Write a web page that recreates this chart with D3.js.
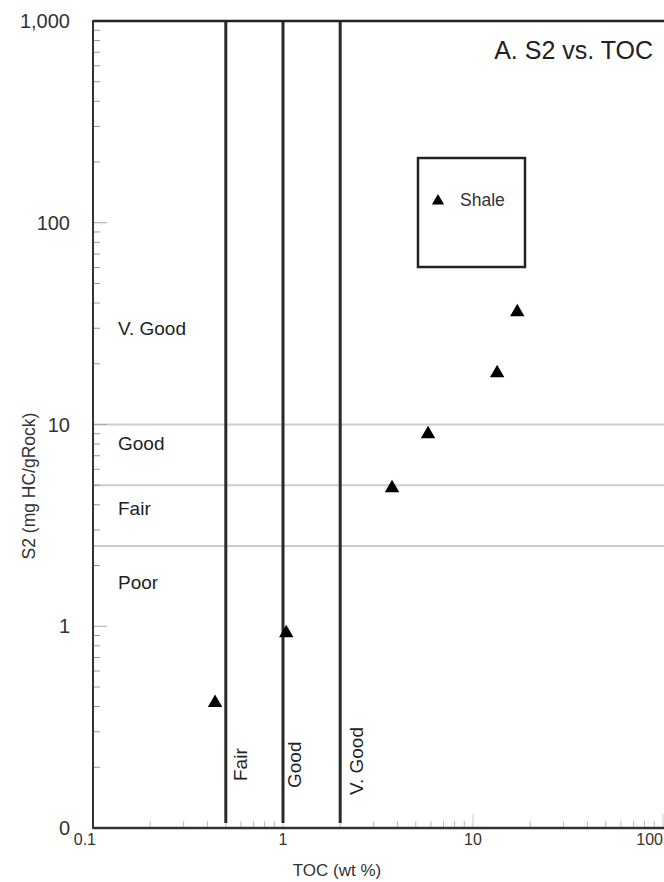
<!DOCTYPE html>
<html><head><meta charset="utf-8">
<script src="https://cdn.jsdelivr.net/npm/d3@7"></script>
<style>body{margin:0;background:#fff;}svg{display:block;font-family:"Liberation Sans",Arial,sans-serif;}</style>
</head><body><svg id="c" width="664" height="882"></svg>
<script>
const tocValues = [0.439, 1.04, 3.75, 5.80, 13.4, 17.1];
const s2Values = [0.417, 0.926, 4.84, 8.97, 18.0, 36.1];
const xTickValues = [0.1, 1, 10, 100];
const xTickLabels = ["0.1", "1", "10", "100"];
const yTickValues = [0.1, 1, 10, 100, 1000];
const yTickLabels = ["0", "1", "10", "100", "1,000"];
const s2Thresholds = [2.5, 5, 10];
const s2Classes = ["Poor", "Fair", "Good", "V. Good"];
const s2ClassPos = [1.66, 3.86, 8.1, 30];
const tocThresholds = [0.5, 1, 2];
const tocClasses = ["Fair", "Good", "V. Good"];

const svg = d3.select("#c");
const x = d3.scaleLog().domain([0.1, 100]).range([93, 663]);
const y = d3.scaleLog().domain([0.1, 1000]).range([828, 21]);

// horizontal grey threshold lines
svg.selectAll("line.h").data(s2Thresholds).join("line")
  .attr("x1", x(0.1)).attr("x2", 664)
  .attr("y1", d => y(d)).attr("y2", d => y(d))
  .attr("stroke", "#cdcdcd").attr("stroke-width", 2);

// minor ticks
const minors = [];
for (let e = -1; e < 3; e++) for (let m = 2; m <= 9; m++) minors.push(m * Math.pow(10, e));
svg.selectAll("line.ym").data(minors).join("line")
  .attr("x1", x(0.1)).attr("x2", x(0.1) + 7)
  .attr("y1", d => y(d)).attr("y2", d => y(d))
  .attr("stroke", "#999").attr("stroke-width", 1);
svg.selectAll("line.yM").data(yTickValues).join("line")
  .attr("x1", x(0.1)).attr("x2", x(0.1) + 14)
  .attr("y1", d => y(d)).attr("y2", d => y(d))
  .attr("stroke", "#aaa").attr("stroke-width", 1);
svg.selectAll("line.xm").data(minors.filter(d => d < 100)).join("line")
  .attr("x1", d => x(d)).attr("x2", d => x(d))
  .attr("y1", y(0.1)).attr("y2", y(0.1) - 7)
  .attr("stroke", "#bbb").attr("stroke-width", 1);
svg.selectAll("line.xM").data(xTickValues).join("line")
  .attr("x1", d => x(d)).attr("x2", d => x(d))
  .attr("y1", y(0.1)).attr("y2", y(0.1) - 14)
  .attr("stroke", "#ccc").attr("stroke-width", 1);

// vertical TOC threshold lines
svg.selectAll("line.v").data(tocThresholds).join("line")
  .attr("x1", d => x(d)).attr("x2", d => x(d))
  .attr("y1", y(1000)).attr("y2", y(0.1) - 5)
  .attr("stroke", "#2a2a2a").attr("stroke-width", 3);

// frame
svg.append("line").attr("x1", x(0.1)).attr("x2", 664).attr("y1", y(1000)).attr("y2", y(1000))
  .attr("stroke", "#222").attr("stroke-width", 2.5);
svg.append("line").attr("x1", x(0.1)).attr("x2", x(0.1)).attr("y1", y(1000) - 1).attr("y2", y(0.1) + 1)
  .attr("stroke", "#333").attr("stroke-width", 2);
svg.append("line").attr("x1", x(0.1)).attr("x2", 664).attr("y1", y(0.1)).attr("y2", y(0.1))
  .attr("stroke", "#333").attr("stroke-width", 2.5);

// tick labels
svg.selectAll("text.yl").data(yTickValues).join("text")
  .attr("x", 70).attr("y", d => y(d) + 7).attr("text-anchor", "end")
  .attr("font-size", 20).attr("fill", "#333").text((d, i) => yTickLabels[i]);
svg.selectAll("text.xl").data(xTickValues).join("text")
  .attr("x", (d, i) => i === 0 ? 96 : (i === 3 ? 663 : x(d)))
  .attr("y", 845)
  .attr("text-anchor", (d, i) => i === 0 || i === 3 ? "end" : "middle")
  .attr("font-size", 16).attr("fill", "#333").text((d, i) => xTickLabels[i]);

// axis titles
svg.append("text").attr("x", 337).attr("y", 876).attr("text-anchor", "middle")
  .attr("font-size", 17).attr("fill", "#333").text("TOC (wt %)");
svg.append("text").attr("transform", "translate(35,486) rotate(-90)").attr("text-anchor", "middle")
  .attr("font-size", 17.5).attr("fill", "#333").text("S2 (mg HC/gRock)");

// S2 class labels
svg.selectAll("text.s2c").data(s2Classes).join("text")
  .attr("x", 118).attr("y", (d, i) => y(s2ClassPos[i]) + 7)
  .attr("font-size", 19).attr("fill", "#222").text(d => d);

// TOC class labels (rotated)
const tocLabelOff = [21, 18, 23];
const tocLabelBottom = [781, 788, 795];
svg.selectAll("text.tc").data(tocClasses).join("text")
  .attr("transform", (d, i) => `translate(${x(tocThresholds[i]) + tocLabelOff[i]},${tocLabelBottom[i]}) rotate(-90)`)
  .attr("font-size", 19).attr("fill", "#222").text(d => d);

// points
const tri = d3.symbol().type(d3.symbolTriangle).size(90);
svg.selectAll("path.pt").data(tocValues).join("path")
  .attr("transform", (d, i) => `translate(${x(d)},${y(s2Values[i])})`)
  .attr("d", tri).attr("fill", "#000");

// legend
svg.append("rect").attr("x", 418).attr("y", 158).attr("width", 107).attr("height", 109)
  .attr("fill", "none").attr("stroke", "#222").attr("stroke-width", 2.5);
svg.append("path").attr("transform", "translate(438,201)").attr("d", d3.symbol().type(d3.symbolTriangle).size(65)).attr("fill", "#000");
svg.append("text").attr("x", 460).attr("y", 206).attr("font-size", 17.5).attr("fill", "#333").text("Shale");

// title
svg.append("text").attr("x", 653).attr("y", 59).attr("text-anchor", "end")
  .attr("font-size", 25).attr("fill", "#222").text("A. S2 vs. TOC");
</script></body></html>
